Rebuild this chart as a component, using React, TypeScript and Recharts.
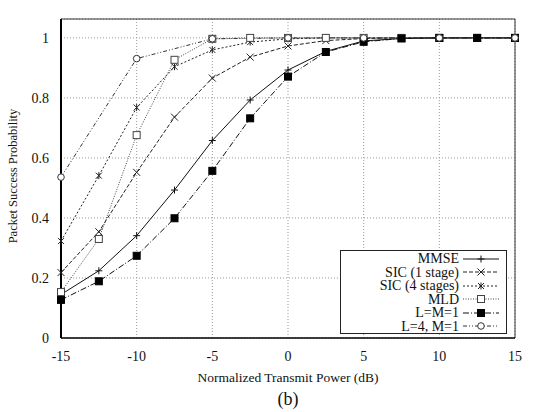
import { LineChart, Line, XAxis, YAxis, CartesianGrid, ReferenceLine } from 'recharts'

// Packet success probability vs normalized transmit power (b)

const power = [-15, -12.5, -10, -7.5, -5, -2.5, 0, 2.5, 5, 7.5, 10, 12.5, 15]
const mmse = [0.145, 0.224, 0.341, 0.493, 0.658, 0.793, 0.893, 0.955, 0.99, 0.998, 1, 1, 1]
const sic1 = [0.218, 0.354, 0.552, 0.736, 0.866, 0.936, 0.973, 0.991, 0.998, 1, 1, 1, 1]
const sic4 = [0.323, 0.541, 0.768, 0.904, 0.96, 0.986, 0.997, 1, 1, 1, 1, 1, 1]
const mld = [0.153, 0.33, 0.676, 0.927, 0.997, 1, 1, 1, 1, 1, 1, 1, 1]
const lm1 = [0.127, 0.189, 0.274, 0.399, 0.557, 0.732, 0.871, 0.953, 0.987, 0.998, 1, 1, 1]
const l4m1 = [0.536, null, 0.931, null, 0.997, null, 1, null, 1, null, 1, null, 1]

const xTicks = [-15, -10, -5, 0, 5, 10, 15]
const yTicks = [0, 0.2, 0.4, 0.6, 0.8, 1]

const data = power.map((p, i) => ({
  p,
  mmse: mmse[i],
  sic1: sic1[i],
  sic4: sic4[i],
  mld: mld[i],
  lm1: lm1[i],
  l4m1: l4m1[i],
}))

const FONT = '"Liberation Serif", "DejaVu Serif", serif'

type Shape = 'plus' | 'cross' | 'star' | 'square' | 'filled' | 'circle'

function Marker({ cx, cy, shape, color }: { cx: number; cy: number; shape: Shape; color: string }) {
  if (cx == null || cy == null || isNaN(cx) || isNaN(cy)) return null
  const s = 3.5
  switch (shape) {
    case 'plus':
      return (
        <g stroke={color} strokeWidth={1}>
          <line x1={cx - s} y1={cy} x2={cx + s} y2={cy} />
          <line x1={cx} y1={cy - s} x2={cx} y2={cy + s} />
        </g>
      )
    case 'cross':
      return (
        <g stroke={color} strokeWidth={1}>
          <line x1={cx - s} y1={cy - s} x2={cx + s} y2={cy + s} />
          <line x1={cx - s} y1={cy + s} x2={cx + s} y2={cy - s} />
        </g>
      )
    case 'star':
      return (
        <g stroke={color} strokeWidth={1}>
          <line x1={cx - 3} y1={cy - 3} x2={cx + 3} y2={cy + 3} />
          <line x1={cx - 3} y1={cy + 3} x2={cx + 3} y2={cy - 3} />
          <line x1={cx} y1={cy - 3.5} x2={cx} y2={cy + 3.5} />
        </g>
      )
    case 'square':
      return <rect x={cx - 3.5} y={cy - 3.5} width={7} height={7} fill="#fff" stroke={color} strokeWidth={1} />
    case 'filled':
      return <rect x={cx - 3.5} y={cy - 3.5} width={7} height={7} fill="#000" stroke="#000" />
    case 'circle':
      return <circle cx={cx} cy={cy} r={3.3} fill="#fff" stroke={color} strokeWidth={1} />
  }
}

const series: { key: string; name: string; dash: string; color: string; shape: Shape }[] = [
  { key: 'mmse', name: 'MMSE', dash: '', color: '#111', shape: 'plus' },
  { key: 'sic1', name: 'SIC (1 stage)', dash: '4 2', color: '#222', shape: 'cross' },
  { key: 'sic4', name: 'SIC (4 stages)', dash: '2 2', color: '#222', shape: 'star' },
  { key: 'mld', name: 'MLD', dash: '1 1.5', color: '#444', shape: 'square' },
  { key: 'lm1', name: 'L=M=1', dash: '6 2 1 2', color: '#111', shape: 'filled' },
  { key: 'l4m1', name: 'L=4, M=1', dash: '4 2 1 2 1 2', color: '#333', shape: 'circle' },
]

function LegendBox() {
  return (
    <div
      style={{
        position: 'absolute',
        left: 340,
        top: 250,
        width: 167,
        height: 84,
        border: '1px solid #222',
        background: '#fff',
        fontFamily: FONT,
        fontSize: 14,
        padding: '1px 0',
        boxSizing: 'border-box',
      }}
    >
      {series.map((s) => (
        <div key={s.key} style={{ display: 'flex', alignItems: 'center', height: 13.5 }}>
          <span style={{ width: 118, textAlign: 'right', color: '#111', lineHeight: '13px' }}>{s.name}</span>
          <svg width={40} height={12} style={{ marginLeft: 4 }}>
            <line x1={0} y1={6} x2={36} y2={6} stroke={s.color} strokeDasharray={s.dash || undefined} />
            <Marker cx={18} cy={6} shape={s.shape} color={s.color} />
          </svg>
        </div>
      ))}
    </div>
  )
}

export default function App() {
  return (
    <div style={{ position: 'absolute', left: 0, top: 0, width: 540, height: 412, background: '#fff', fontFamily: FONT }}>
      <LineChart
        width={540}
        height={412}
        data={data}
        margin={{ top: 19, right: 25, left: 0, bottom: 44 }}
        style={{ fontFamily: FONT }}
      >
        <CartesianGrid stroke="#999" strokeDasharray="1 2" horizontal vertical />
        <XAxis
          dataKey="p"
          type="number"
          domain={[-15, 15]}
          ticks={xTicks}
          tickLine={false}
          axisLine={{ stroke: '#000', strokeWidth: 1.5 }}
          tick={{ fontSize: 14, fill: '#111', fontFamily: FONT }}
          tickMargin={7}
          height={30}
        />
        <YAxis
          type="number"
          domain={[0, 1.063]}
          ticks={yTicks}
          tickLine={false}
          allowDataOverflow
          axisLine={{ stroke: '#000', strokeWidth: 2 }}
          tick={{ fontSize: 14, fill: '#111', fontFamily: FONT }}
          tickFormatter={(v: number) => String(v)}
          tickMargin={6}
          width={61}
        />
        <ReferenceLine y={1.063} stroke="#333" strokeWidth={1} />
        <ReferenceLine x={15} stroke="#333" strokeWidth={1} />
        {series.map((s) => (
          <Line
            key={s.key}
            dataKey={s.key}
            name={s.name}
            type="linear"
            stroke={s.color}
            strokeWidth={1}
            strokeDasharray={s.dash || undefined}
            connectNulls
            isAnimationActive={false}
            dot={(props: any) => (
              <Marker key={`${s.key}-${props.index}`} cx={props.cx} cy={props.cy} shape={s.shape} color={s.color} />
            )}
            activeDot={false}
          />
        ))}
      </LineChart>
      <LegendBox />
      <div
        style={{
          position: 'absolute',
          left: 0,
          width: 576,
          top: 370,
          textAlign: 'center',
          fontSize: 13.5,
          color: '#111',
        }}
      >
        Normalized Transmit Power (dB)
      </div>
      <div
        style={{
          position: 'absolute',
          left: 0,
          width: 576,
          top: 389,
          textAlign: 'center',
          fontSize: 18,
          color: '#111',
        }}
      >
        (b)
      </div>
      <div
        style={{
          position: 'absolute',
          left: 13,
          top: 176,
          transform: 'translate(-50%, -50%) rotate(-90deg)',
          whiteSpace: 'nowrap',
          fontSize: 12.5,
          color: '#111',
        }}
      >
        Packet Success Probability
      </div>
    </div>
  )
}
